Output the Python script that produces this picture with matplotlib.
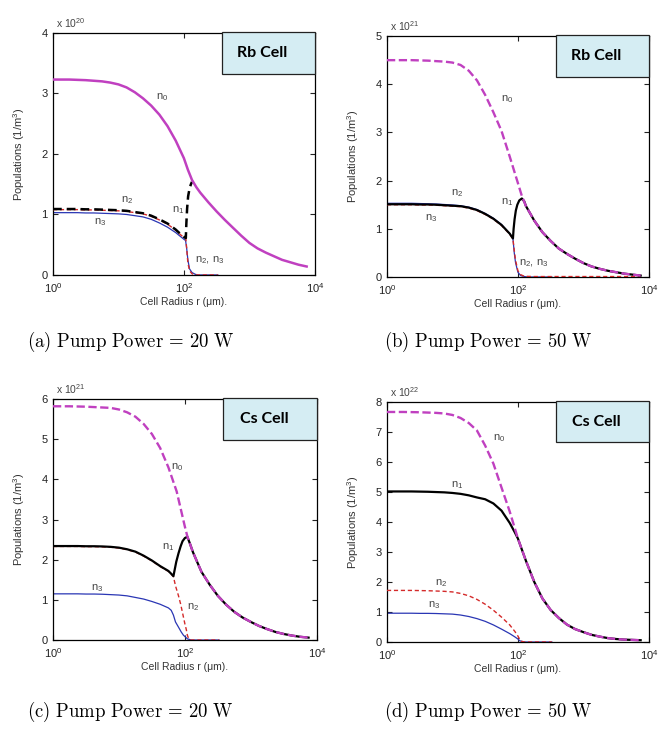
import matplotlib
matplotlib.use("Agg")
import matplotlib.pyplot as plt
from matplotlib.patches import Rectangle
from matplotlib.ticker import LogFormatterSciNotation, FixedLocator, NullLocator

plt.rcParams["font.family"] = ["Liberation Sans", "DejaVu Sans"]
plt.rcParams["mathtext.fontset"] = "custom"
plt.rcParams["mathtext.rm"] = "Liberation Sans"
plt.rcParams["mathtext.it"] = "Liberation Sans:italic"
plt.rcParams["mathtext.bf"] = "Liberation Sans:bold"

# ---- data: radius (um) and populations (in units of the axis multiplier) ----
R_GRID = [1, 1.33, 1.78, 2.37, 3.16, 4.22, 5.62, 7.5, 10, 13.3, 17.8, 23.7, 31.6, 42.2,
          56.2, 75, 100, 133, 178, 237, 316, 422, 562, 750, 1000, 1330, 1780, 2370,
          3160, 4220, 5620, 7500]

# (a) Rb cell, 20 W  (x 1e20)
r_a_n0 = R_GRID[:16] + [100, 115, 133, 155] + R_GRID[18:]
n0_a = [3.23, 3.23, 3.23, 3.225, 3.22, 3.21, 3.20, 3.18, 3.15, 3.10, 3.02, 2.92, 2.80,
        2.65, 2.46, 2.22, 1.93, 1.74, 1.57, 1.45, 1.36, 1.20, 1.05, 0.91, 0.78, 0.65,
        0.53, 0.44, 0.37, 0.31, 0.25, 0.21, 0.17, 0.14]
r_a_n1 = R_GRID[:16] + [90, 100, 107, 109, 112, 116, 122, 128, 133]
n1_a = [1.09, 1.09, 1.09, 1.09, 1.085, 1.085, 1.08, 1.075, 1.07, 1.06, 1.04, 1.02, 0.98,
        0.92, 0.85, 0.75, 0.67, 0.63, 0.61, 0.85, 1.10, 1.30, 1.43, 1.50, 1.54]
r_a_n2 = R_GRID[:16] + [90, 100, 107, 110, 115, 122, 133, 150, 330]
n2_a = [1.08, 1.08, 1.08, 1.08, 1.075, 1.075, 1.07, 1.065, 1.06, 1.05, 1.03, 1.01, 0.97,
        0.91, 0.84, 0.74, 0.66, 0.62, 0.60, 0.45, 0.20, 0.07, 0.02, 0.0, 0.0]
r_a_n3 = R_GRID[:16] + [90, 100, 106, 110, 115, 122, 133, 150, 165, 330]
n3_a = [1.03, 1.03, 1.03, 1.03, 1.025, 1.025, 1.02, 1.015, 1.01, 1.00, 0.98, 0.96, 0.92,
        0.86, 0.79, 0.70, 0.63, 0.59, 0.57, 0.45, 0.25, 0.10, 0.04, 0.01, 0.0, 0.0]

# (b) Rb cell, 50 W  (x 1e21)
r_b_n0 = R_GRID[:16] + [100, 115] + R_GRID[17:]
n0_b = [4.50, 4.50, 4.50, 4.50, 4.495, 4.49, 4.48, 4.47, 4.45, 4.40, 4.28, 4.08, 3.78,
        3.42, 3.03, 2.50, 1.95, 1.68, 1.47, 1.17, 0.93, 0.75, 0.59, 0.48, 0.38, 0.29,
        0.22, 0.17, 0.13, 0.10, 0.07, 0.05, 0.03]
r_b_n1 = R_GRID[:15] + [75, 84, 86, 89, 93, 98, 105, 115, 125] + R_GRID[17:]
n1_b = [1.51, 1.51, 1.51, 1.51, 1.505, 1.505, 1.50, 1.49, 1.48, 1.47, 1.44, 1.39, 1.31,
        1.21, 1.08, 0.90, 0.80, 1.00, 1.20, 1.38, 1.50, 1.59, 1.63, 1.57, 1.47, 1.17,
        0.93, 0.75, 0.59, 0.48, 0.38, 0.29, 0.22, 0.17, 0.13, 0.10, 0.07, 0.05, 0.03]
r_b_n2 = R_GRID[:15] + [75, 84, 88, 92, 100, 110, 125] + R_GRID[18:]
n2_b = [1.50, 1.50, 1.50, 1.50, 1.495, 1.495, 1.49, 1.48, 1.47, 1.46, 1.43, 1.38, 1.30,
        1.20, 1.07, 0.89, 0.79, 0.55, 0.35, 0.13, 0.05, 0.015, 0.01, 0.01, 0.01, 0.01,
        0.01, 0.01, 0.01, 0.01, 0.01, 0.01, 0.01, 0.01, 0.01, 0.01]
r_b_n3 = R_GRID[:15] + [75, 84, 88, 92, 100, 110, 125, 140, 330]
n3_b = [1.53, 1.53, 1.53, 1.53, 1.525, 1.52, 1.515, 1.505, 1.495, 1.48, 1.45, 1.40, 1.32,
        1.22, 1.09, 0.90, 0.80, 0.50, 0.30, 0.10, 0.03, 0.01, 0.0, 0.0]

# (c) Cs cell, 20 W  (x 1e21)
r_c_n0 = R_GRID[:17] + [109] + R_GRID[17:]
n0_c = [5.82, 5.82, 5.82, 5.815, 5.81, 5.80, 5.79, 5.78, 5.74, 5.67, 5.56, 5.38, 5.13,
        4.78, 4.30, 3.70, 2.82, 2.58, 2.18, 1.70, 1.38, 1.10, 0.88, 0.70, 0.56, 0.45,
        0.35, 0.27, 0.20, 0.15, 0.11, 0.08, 0.06]
r_c_n1 = R_GRID[:14] + [56.2, 62, 67, 70, 74, 80, 86, 92, 100, 109, 118] + R_GRID[17:]
n1_c = [2.34, 2.34, 2.34, 2.34, 2.335, 2.335, 2.33, 2.32, 2.30, 2.26, 2.20, 2.10, 1.98,
        1.84, 1.72, 1.65, 1.59, 1.75, 1.95, 2.16, 2.33, 2.46, 2.54, 2.57, 2.42, 2.18,
        1.70, 1.38, 1.10, 0.88, 0.70, 0.56, 0.45, 0.35, 0.27, 0.20, 0.15, 0.11, 0.08, 0.06]
r_c_n2 = R_GRID[:14] + [56.2, 62, 67, 72, 80, 86, 92, 100, 105, 109, 113, 118, 125, 330]
n2_c = [2.33, 2.33, 2.33, 2.33, 2.325, 2.325, 2.32, 2.31, 2.29, 2.25, 2.19, 2.09, 1.97,
        1.83, 1.71, 1.64, 1.58, 1.35, 1.10, 0.90, 0.68, 0.40, 0.26, 0.12, 0.05, 0.02,
        0.0, 0.0]
r_c_n3 = R_GRID[:15] + [62, 67, 72, 80, 88, 95, 109, 125, 330]
n3_c = [1.15, 1.15, 1.15, 1.15, 1.145, 1.145, 1.14, 1.13, 1.12, 1.10, 1.06, 1.02, 0.96,
        0.89, 0.80, 0.74, 0.62, 0.45, 0.32, 0.20, 0.12, 0.03, 0.0, 0.0]

# (d) Cs cell, 50 W  (x 1e22)
r_d_n0 = R_GRID
n0_d = [7.67, 7.67, 7.67, 7.665, 7.66, 7.65, 7.64, 7.62, 7.57, 7.47, 7.30, 7.05, 6.55,
        5.95, 5.15, 4.35, 3.45, 2.70, 2.00, 1.45, 1.07, 0.80, 0.58, 0.43, 0.33, 0.24,
        0.18, 0.13, 0.10, 0.08, 0.07, 0.06]
r_d_n1 = R_GRID[:15] + [75, 90] + R_GRID[16:]
n1_d = [5.02, 5.02, 5.02, 5.02, 5.015, 5.01, 5.00, 4.99, 4.97, 4.94, 4.89, 4.82, 4.76,
        4.62, 4.38, 3.97, 3.65, 3.45, 2.70, 2.00, 1.45, 1.07, 0.80, 0.58, 0.43, 0.33,
        0.24, 0.18, 0.13, 0.10, 0.08, 0.07, 0.06]
r_d_n2 = R_GRID[:16] + [90, 100, 107, 115, 125, 330]
n2_d = [1.72, 1.72, 1.72, 1.72, 1.715, 1.71, 1.70, 1.69, 1.67, 1.62, 1.54, 1.42, 1.26,
        1.06, 0.83, 0.57, 0.35, 0.20, 0.08, 0.02, 0.0, 0.0]
r_d_n3 = R_GRID[:16] + [90, 100, 107, 120, 133, 330]
n3_d = [0.96, 0.96, 0.96, 0.96, 0.955, 0.955, 0.95, 0.94, 0.93, 0.90, 0.85, 0.78, 0.69,
        0.57, 0.43, 0.28, 0.17, 0.10, 0.04, 0.01, 0.0, 0.0]

# curve labels: (text, r, value)
labels_a = [("n$_0$", 46, 2.94), ("n$_2$", 13.5, 1.24), ("n$_1$", 81, 1.07),
            ("n$_3$", 5.2, 0.88), ("n$_2$, n$_3$", 250, 0.25)]
labels_b = [("n$_0$", 68, 3.69), ("n$_2$", 11.7, 1.75), ("n$_1$", 68, 1.56),
            ("n$_3$", 4.7, 1.23), ("n$_2$, n$_3$", 175, 0.29)]
labels_c = [("n$_0$", 77, 4.30), ("n$_1$", 56, 2.31), ("n$_3$", 4.7, 1.29),
            ("n$_2$", 131, 0.82)]
labels_d = [("n$_0$", 51, 6.8), ("n$_1$", 11.7, 5.23), ("n$_2$", 6.7, 1.97),
            ("n$_3$", 5.2, 1.23)]

MAG = "#c040c0"
RED = "#d42a2a"
BLUE = "#2a36b4"
TXT = "#333333"
BOXC = "#d5edf3"

fig = plt.figure(figsize=(6.68, 7.36), dpi=100)


def panel(rect, ymax, exp, cell, caption, cap_xy, series, labels, n0_dashed, n1_dashed):
    ax = fig.add_axes(rect)
    (rn3, v3), (rn2, v2), (rn1, v1), (rn0, v0) = series
    ax.plot(rn3, v3, color=BLUE, lw=0.9, zorder=2)
    ax.plot(rn2, v2, color=RED, lw=1.0, ls=(0, (3, 2)), zorder=3)
    if n1_dashed:
        ax.plot(rn1, v1, color="black", lw=1.8, ls=(0, (3.5, 2)), zorder=4)
    else:
        ax.plot(rn1, v1, color="black", lw=1.6, zorder=4)
    if n0_dashed:
        ax.plot(rn0, v0, color=MAG, lw=1.7, ls=(0, (3.5, 1.5)), zorder=5)
    else:
        ax.plot(rn0, v0, color=MAG, lw=1.8, zorder=5)

    ax.set_xscale("log")
    ax.set_xlim(1, 1e4)
    ax.set_ylim(0, ymax)
    ax.xaxis.set_major_locator(FixedLocator([1, 1e2, 1e4]))
    ax.xaxis.set_minor_locator(NullLocator())
    ax.xaxis.set_major_formatter(LogFormatterSciNotation())
    ax.set_yticks(range(0, ymax + 1))
    ax.tick_params(direction="in", top=True, right=True, length=3.5, width=0.8,
                   labelsize=8, colors="#222222")
    ax.tick_params(axis="x", pad=4.5)
    ax.tick_params(axis="y", pad=4)
    for sp in ax.spines.values():
        sp.set_linewidth(0.9)
    ax.set_xlabel("Cell Radius r (\u03bcm).", fontsize=7.5, color=TXT)
    ax.set_ylabel("Populations (1/m$^3$)", fontsize=8, color=TXT)
    ax.xaxis.set_label_coords(0.5, -0.09)
    ax.yaxis.set_label_coords(-0.1, 0.5)
    ax.text(0.01, 1.012, "x 10$^{%d}$" % exp, transform=ax.transAxes, fontsize=7.5,
            color="#444444", va="bottom", ha="left")

    for txt, rx, vy in labels:
        ax.text(rx, vy, txt, fontsize=8, color="#444444", ha="center", va="center",
                zorder=6)

    ax.add_patch(Rectangle((0.645, 0.832), 0.357, 0.172, transform=ax.transAxes,
                           facecolor=BOXC, edgecolor="#222222", lw=0.9,
                           clip_on=False, zorder=7))
    ax.text(0.80, 0.917, cell, transform=ax.transAxes, fontsize=11.5,
            fontweight="bold", family="Lato", ha="center", va="center", zorder=8)

    fig.text(cap_xy[0], cap_xy[1], caption, fontsize=13.5, math_fontfamily="cm",
             ha="center", va="center")
    return ax


panel([0.0793, 0.6264, 0.392, 0.3288], 4, 20, "Rb Cell",
      r"$\mathrm{(a)\ Pump\ Power}\,=\,20\ \mathrm{W}$", (0.195, 0.535),
      [(r_a_n3, n3_a), (r_a_n2, n2_a), (r_a_n1, n1_a), (r_a_n0, n0_a)],
      labels_a, n0_dashed=False, n1_dashed=True)
panel([0.5793, 0.6236, 0.392, 0.3274], 5, 21, "Rb Cell",
      r"$\mathrm{(b)\ Pump\ Power}\,=\,50\ \mathrm{W}$", (0.730, 0.535),
      [(r_b_n3, n3_b), (r_b_n2, n2_b), (r_b_n1, n1_b), (r_b_n0, n0_b)],
      labels_b, n0_dashed=True, n1_dashed=False)
panel([0.0793, 0.1304, 0.395, 0.3274], 6, 21, "Cs Cell",
      r"$\mathrm{(c)\ Pump\ Power}\,=\,20\ \mathrm{W}$", (0.195, 0.033),
      [(r_c_n3, n3_c), (r_c_n2, n2_c), (r_c_n1, n1_c), (r_c_n0, n0_c)],
      labels_c, n0_dashed=True, n1_dashed=False)
panel([0.5793, 0.1277, 0.392, 0.326], 8, 22, "Cs Cell",
      r"$\mathrm{(d)\ Pump\ Power}\,=\,50\ \mathrm{W}$", (0.730, 0.033),
      [(r_d_n3, n3_d), (r_d_n2, n2_d), (r_d_n1, n1_d), (r_d_n0, n0_d)],
      labels_d, n0_dashed=True, n1_dashed=False)

fig.savefig("out.png", dpi=100)
